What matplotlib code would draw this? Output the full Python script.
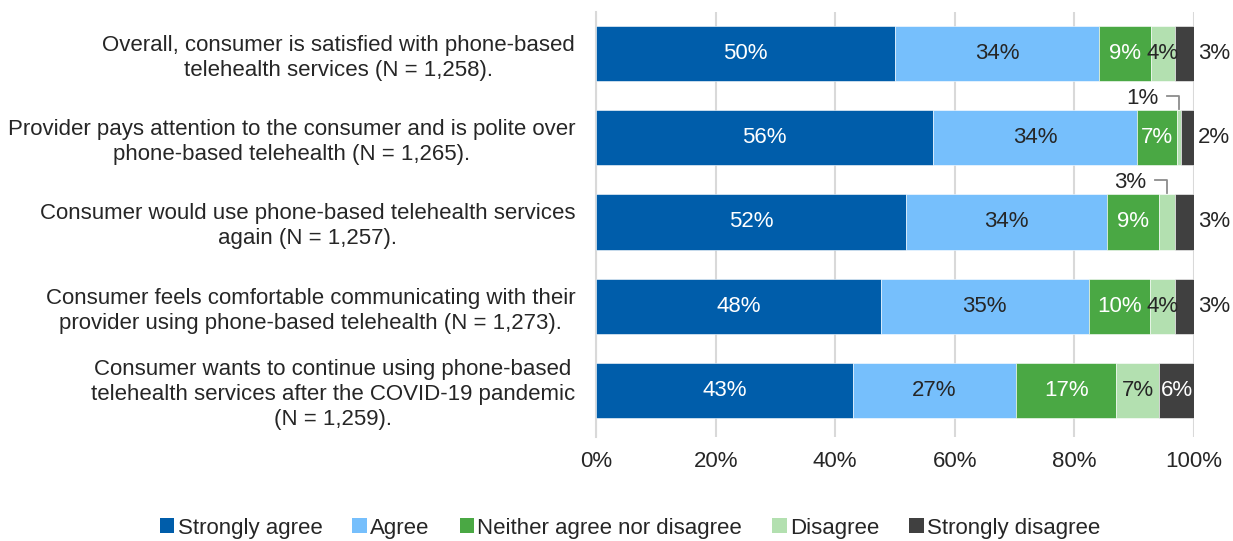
"""
Phone-based telehealth satisfaction survey: 100% stacked bar chart.

Each row is one survey statement, split into the five Likert responses.
Small segments that don't fit a label get a leader line or an outside label.
"""

import matplotlib
matplotlib.use("Agg")
import matplotlib.pyplot as plt
from matplotlib.patches import Patch


# Survey statements (top to bottom)
STATEMENTS = [
    "Overall, consumer is satisfied with phone-based\ntelehealth services (N = 1,258).",
    "Provider pays attention to the consumer and is polite over\nphone-based telehealth (N = 1,265).",
    "Consumer would use phone-based telehealth services\nagain (N = 1,257).",
    "Consumer feels comfortable communicating with their\nprovider using phone-based telehealth (N = 1,273).",
    "Consumer wants to continue using phone-based\ntelehealth services after the COVID-19 pandemic\n(N = 1,259).",
]

RESPONSES = ["Strongly agree", "Agree", "Neither agree nor disagree", "Disagree", "Strongly disagree"]

# Percent of respondents per response, one list per statement
STRONGLY_AGREE = [50.0, 56.3, 51.8, 47.6, 42.9]
AGREE = [34.1, 34.2, 33.7, 34.8, 27.4]
NEITHER = [8.7, 6.7, 8.6, 10.3, 16.6]
DISAGREE = [4.0, 0.6, 2.8, 4.1, 7.3]
STRONGLY_DISAGREE = [3.2, 2.2, 3.1, 3.2, 5.8]

X_TICKS = [0, 20, 40, 60, 80, 100]

COLORS = ["#005DAA", "#76BFFC", "#4AA844", "#B3E0B0", "#404040"]
TEXT_DARK = "#262626"
TEXT_COLORS = ["white", TEXT_DARK, "white", TEXT_DARK, "white"]

FONT = "Liberation Sans"
FONT_SIZE = 16
BAR_HEIGHT = 0.655


def draw_bars(ax, series):
    """Stack the five response series left to right and label each segment."""
    n = len(STATEMENTS)
    lefts = [0.0] * n
    for k, values in enumerate(series):
        ax.barh(range(n), values, left=lefts, height=BAR_HEIGHT, color=COLORS[k],
                edgecolor="white", linewidth=0.4, zorder=3)
        for i, v in enumerate(values):
            center = lefts[i] + v / 2
            label = f"{v:.0f}%"
            if k == 4 and v < 5:
                # thin last segment: label sits to the right of the bar
                ax.text(100 + 0.7, i, label, ha="left", va="center",
                        fontsize=FONT_SIZE, color=TEXT_DARK)
            elif k == 3 and v < 3.5:
                # thin "Disagree" slice: label above with an elbow leader
                top = i - BAR_HEIGHT / 2
                ax.plot([center - 2.0, center, center], [top - 0.17, top - 0.17, top - 0.015],
                        color="#8c8c8c", linewidth=1.3, zorder=4, clip_on=False)
                ax.text(center - 3.5, top - 0.14, label, ha="right", va="center",
                        fontsize=FONT_SIZE, color=TEXT_DARK)
            else:
                ax.text(center, i, label, ha="center", va="center",
                        fontsize=FONT_SIZE, color=TEXT_COLORS[k], zorder=5)
            lefts[i] += v


def main():
    plt.rcParams["font.family"] = [FONT, "DejaVu Sans"]

    fig = plt.figure(figsize=(12.33, 5.41), dpi=100)
    ax = fig.add_axes([0.4834, 0.192, 0.485, 0.786])

    series = [STRONGLY_AGREE, AGREE, NEITHER, DISAGREE, STRONGLY_DISAGREE]
    draw_bars(ax, series)

    ax.set_xlim(0, 100)
    ax.set_ylim(4.56, -0.5)
    ax.set_xticks(X_TICKS)
    ax.set_xticklabels([f"{t}%" for t in X_TICKS], fontsize=FONT_SIZE, color=TEXT_DARK)
    ax.set_yticks(range(len(STATEMENTS)))
    ax.set_yticklabels(STATEMENTS, fontsize=FONT_SIZE, color=TEXT_DARK)
    for lbl in ax.get_yticklabels():
        lbl.set_multialignment("center")
        lbl.set_linespacing(1.25)

    ax.tick_params(axis="x", length=0, pad=10)
    ax.tick_params(axis="y", length=0, pad=15)
    ax.grid(axis="x", color="#d9d9d9", linewidth=1.5, zorder=0)
    for side in ["top", "right", "bottom"]:
        ax.spines[side].set_visible(False)
    ax.spines["left"].set_color("#d9d9d9")
    ax.spines["left"].set_linewidth(1.5)

    handles = [Patch(facecolor=c, edgecolor="none") for c in COLORS]
    fig.legend(handles, RESPONSES, loc="center", bbox_to_anchor=(0.511, 0.024),
               ncol=5, frameon=False, fontsize=FONT_SIZE, handlelength=0.65,
               handleheight=0.65, handletextpad=0.15, columnspacing=1.35,
               labelcolor=TEXT_DARK)

    fig.savefig("out.png", dpi=100)


if __name__ == "__main__":
    main()
